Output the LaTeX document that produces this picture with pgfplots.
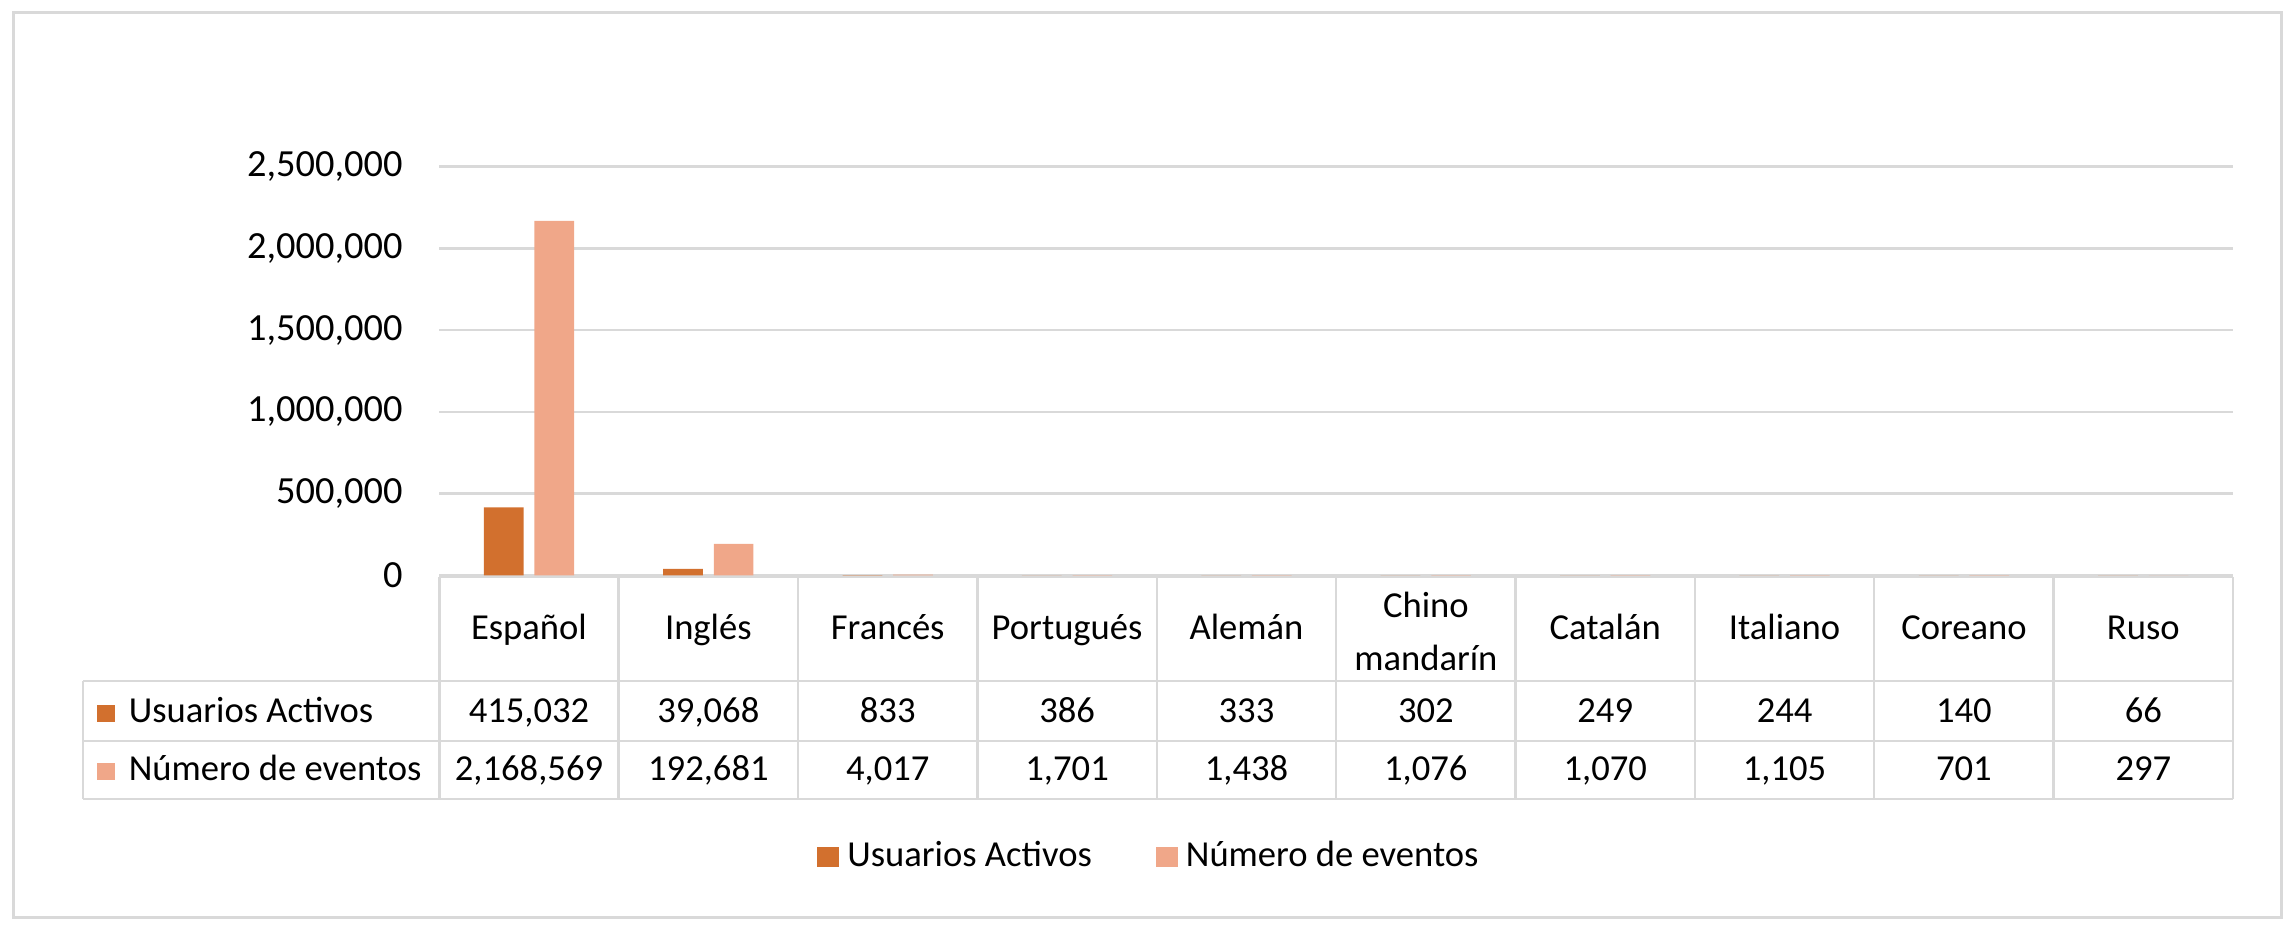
\documentclass[border=0pt]{standalone}
\usepackage{fontspec}
\setmainfont{Carlito}
\usepackage{pgfplots}
\pgfplotsset{compat=1.18}
\definecolor{orangeA}{HTML}{D2702E}
\definecolor{salmonB}{HTML}{F0A789}
\definecolor{gridgray}{HTML}{D9D9D9}
\newcommand\tf{\fontsize{9.15}{11}\selectfont}
\begin{document}
\begin{tikzpicture}
\begin{axis}[
 at={(109.825pt,87.675pt)}, anchor=south west,
 scale only axis, width=448.43pt, height=102.15pt,
 xmin=0.5, xmax=10.5, ymin=0, ymax=2500000,
 axis line style={draw=none},
 xtick=\empty,
 scaled y ticks=false,
 ytick={0,500000,1000000,1500000,2000000,2500000},
 yticklabels={0,{500,000},{1,000,000},{1,500,000},{2,000,000},{2,500,000}},
 yticklabel style={font=\fontsize{9.6}{11}\selectfont, inner sep=0pt, anchor=east, xshift=-9pt},
 ytick style={draw=none},
 ymajorgrids, major grid style={draw=gridgray, line width=0.65pt},
 ybar, bar width=0.221,
 legend columns=2,
 legend style={at={(rel axis cs:0.3973,-0.689)}, anchor=center, draw=none, fill=none, font=\tf, inner sep=0pt, /tikz/every even column/.append style={column sep=14pt}},
 legend image code/.code={\fill[#1] (0pt,-2.5pt) rectangle (5.5pt,2.5pt);},
]
\addplot[fill=orangeA, draw=none, bar shift=-0.141] coordinates {(1,415032) (2,39068) (3,833) (4,386) (5,333) (6,302) (7,249) (8,244) (9,140) (10,66)};
\addlegendentry{Usuarios Activos}
\addplot[fill=salmonB, draw=none, bar shift=0.141] coordinates {(1,2168569) (2,192681) (3,4017) (4,1701) (5,1438) (6,1076) (7,1070) (8,1105) (9,701) (10,297)};
\addlegendentry{Número de eventos}
\end{axis}
\begin{scope}[x=0.25pt,y=0.25pt]
 % outer border
 \draw[gridgray, line width=0.75pt] (13,9) rectangle (2281,914);
 % table lines
 \begin{scope}[gridgray, line width=0.6pt]
  \draw (439.3,349) -- (2233,349);
  \draw (83,245) -- (2233,245);
  \draw (83,185) -- (2233,185);
  \draw (83,127) -- (2233,127);
  \draw (83,245) -- (83,127);
  \foreach \k in {0,...,10} \draw ({439.3+\k*179.37},349) -- ({439.3+\k*179.37},127);
 \end{scope}
 % header
 \foreach \n [count=\i] in {Español,Inglés,Francés,Portugués,Alemán,{},Catalán,Italiano,Coreano,Ruso}
   \node[anchor=base, inner sep=0pt, font=\tf] at ({439.3+(\i-0.5)*179.37},287) {\n};
 \node[anchor=base, inner sep=0pt, font=\tf] at (1425.9,309) {Chino};
 \node[anchor=base, inner sep=0pt, font=\tf] at (1425.9,256) {mandarín};
 % rows
 \foreach \v [count=\i] in {{415,032},{39,068},833,386,333,302,249,244,140,66}
   \node[anchor=base, inner sep=0pt, font=\tf] at ({439.3+(\i-0.5)*179.37},204) {\v};
 \foreach \v [count=\i] in {{2,168,569},{192,681},{4,017},{1,701},{1,438},{1,076},{1,070},{1,105},701,297}
   \node[anchor=base, inner sep=0pt, font=\tf] at ({439.3+(\i-0.5)*179.37},146) {\v};
 \fill[orangeA] (97,204) rectangle (114.6,221);
 \fill[salmonB] (97,146) rectangle (114.6,163);
 \node[anchor=base west, inner sep=0pt, font=\tf] at (128,204) {Usuarios Activos};
 \node[anchor=base west, inner sep=0pt, font=\tf] at (128,146) {Número de eventos};
 \pgfresetboundingbox
 \path (0,0) rectangle (2294,926);
\end{scope}
\end{tikzpicture}
\end{document}
